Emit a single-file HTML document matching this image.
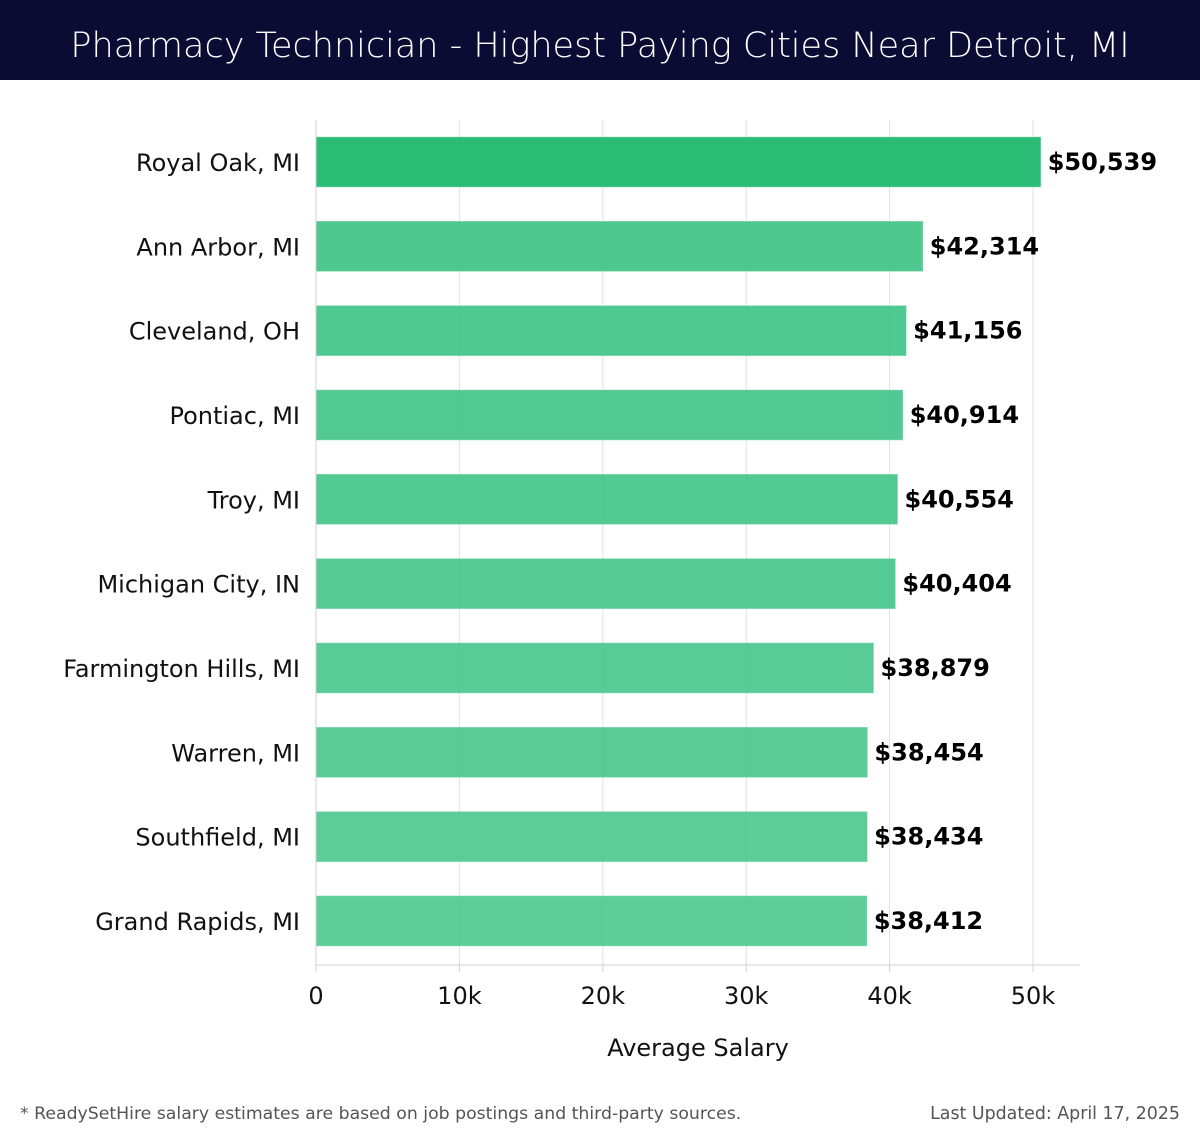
<!DOCTYPE html>
<html><head><meta charset="utf-8"><style>
body{margin:0;width:1200px;height:1140px;background:#fff;font-family:"Liberation Sans","DejaVu Sans",sans-serif;overflow:hidden}
</style></head><body>
<svg width="1200" height="1140" xmlns="http://www.w3.org/2000/svg">
<rect x="0" y="0" width="1200" height="80" fill="#0b0c33"/>
<text x="600" y="57" text-anchor="middle" font-size="35" fill="#fff" font-family="DejaVu Sans, sans-serif" font-weight="300">Pharmacy Technician - Highest Paying Cities Near Detroit, MI</text>
<g id="grid"></g>
<g id="bars"></g>
<line x1="316" y1="965" x2="1080" y2="965" stroke="#d0d0d0"/>
<line x1="316" y1="120" x2="316" y2="965" stroke="#d0d0d0"/>
<g id="ticks"></g>
<text x="698" y="1056" text-anchor="middle" font-size="24" fill="#111" font-family="DejaVu Sans, sans-serif">Average Salary</text>
<text x="20" y="1119" font-size="17.3" fill="#555" font-family="DejaVu Sans, sans-serif">* ReadySetHire salary estimates are based on job postings and third-party sources.</text>
<text x="1180" y="1119" text-anchor="end" font-size="17.4" fill="#555" font-family="DejaVu Sans, sans-serif">Last Updated: April 17, 2025</text>
</svg>
<script>
const categories=["Royal Oak, MI","Ann Arbor, MI","Cleveland, OH","Pontiac, MI","Troy, MI","Michigan City, IN","Farmington Hills, MI","Warren, MI","Southfield, MI","Grand Rapids, MI"];
const salaries=[50539,42314,41156,40914,40554,40404,38879,38454,38434,38412];
const tickValues=[0,10000,20000,30000,40000,50000];
const tickLabels=["0","10k","20k","30k","40k","50k"];
const NS="http://www.w3.org/2000/svg";
const x=v=>316+v*(1033-316)/50000;
const yc=i=>162+i*84.33;
function mk(t,a,p){const e=document.createElementNS(NS,t);for(const k in a)e.setAttribute(k,a[k]);p.appendChild(e);return e;}
const grid=document.getElementById('grid'),bars=document.getElementById('bars'),ticks=document.getElementById('ticks');
tickValues.forEach((v,i)=>{
  const g=mk('line',{x1:x(v),x2:x(v),y1:120,y2:965,stroke:'#e2e2e2'},grid);
  
  
  const tk=mk('line',{x1:x(v),x2:x(v),y1:965,y2:972,stroke:'#d0d0d0'},ticks);
  
  
  const t=mk('text',{x:x(v),y:1004,'text-anchor':'middle','font-size':24,fill:'#111','font-family':'DejaVu Sans, sans-serif'},ticks);
  t.textContent=tickLabels[i];
  
  
});
categories.forEach((c,i)=>{
  const y=yc(i);
  const r=mk('rect',{x:316,y:y-25,width:x(salaries[i])-316,height:50,fill:i===0?'#2bbd75':'#3fc386','fill-opacity':i===0?1:(0.93-i*0.01),stroke:'#8fdcb5','stroke-width':0.5},bars);
  
  
  const l=mk('text',{x:300,y:y+9,'text-anchor':'end','font-size':24,fill:'#111','font-family':'DejaVu Sans, sans-serif'},bars);
  l.textContent=c;
  
  
  const v=mk('text',{x:x(salaries[i])+7,y:y+8,'font-size':24,'font-weight':'bold',fill:'#000','font-family':'DejaVu Sans, sans-serif'},bars);
  v.textContent='$'+salaries[i].toLocaleString('en-US');
  
  
});
</script>
</body></html>
